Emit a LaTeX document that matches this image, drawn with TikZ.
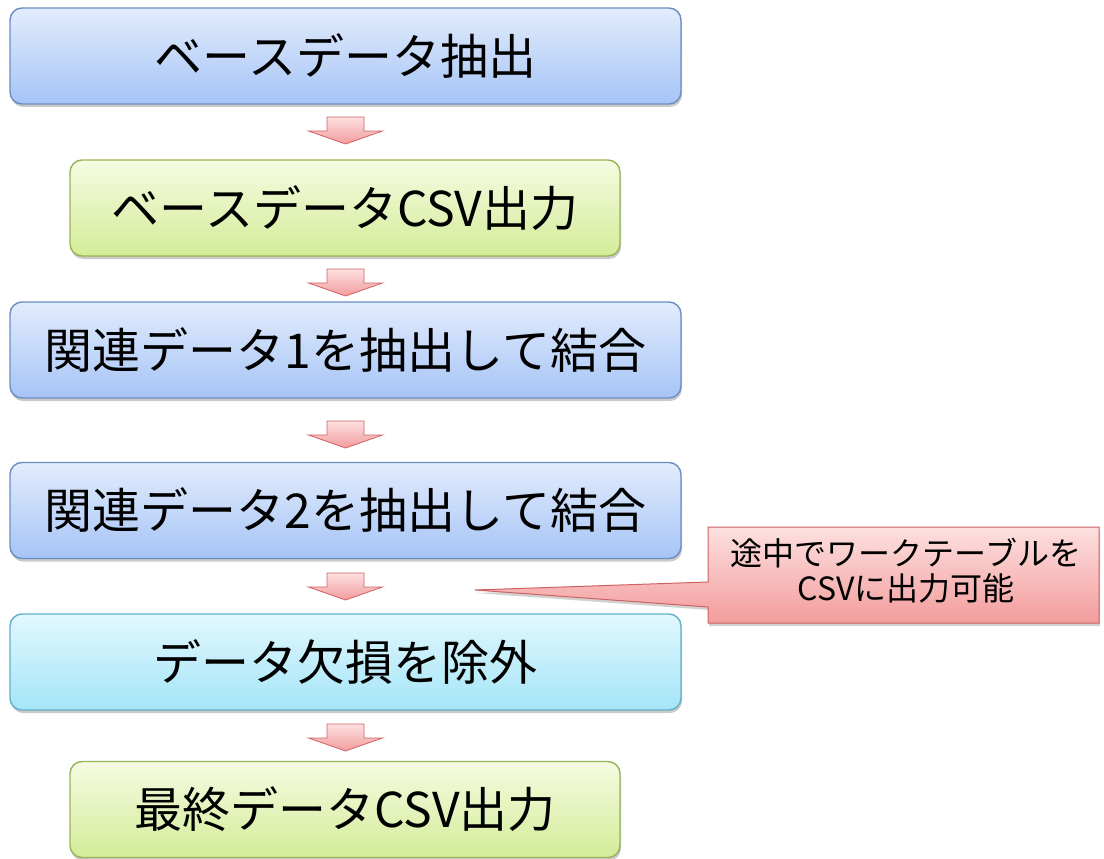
\documentclass[tikz,border=0pt]{standalone}
\usepackage{fontspec}
\setmainfont{Noto Sans CJK JP}
\usetikzlibrary{shadows}
\definecolor{blueT}{HTML}{E2ECFC}
\definecolor{blueB}{HTML}{A6C4F6}
\definecolor{blueD}{HTML}{6A8EC2}
\definecolor{greenT}{HTML}{F6FBE2}
\definecolor{greenB}{HTML}{D3EC98}
\definecolor{greenD}{HTML}{98B556}
\definecolor{cyanT}{HTML}{E2F7FD}
\definecolor{cyanB}{HTML}{A4E5F8}
\definecolor{cyanD}{HTML}{62B0CA}
\definecolor{redT}{HTML}{FDE0E0}
\definecolor{redB}{HTML}{F39C9C}
\definecolor{redD}{HTML}{CF6262}
\tikzset{
  stepbox/.style={rectangle, rounded corners=12pt, line width=1.4pt,
    minimum height=96pt, inner sep=0pt,
    font=\fontsize{48}{54}\selectfont,
    drop shadow={shadow xshift=1pt, shadow yshift=-3pt, opacity=0.35, fill=black!60}},
  bluebox/.style={stepbox, draw=blueD, top color=blueT, bottom color=blueB, minimum width=671pt},
  greenbox/.style={stepbox, draw=greenD, top color=greenT, bottom color=greenB, minimum width=550pt},
  cyanbox/.style={stepbox, draw=cyanD, top color=cyanT, bottom color=cyanB, minimum width=671pt},
  blockarrow/.style={draw=redD, line width=0.8pt, top color=redT, bottom color=redB, line join=miter},
  callout/.style={draw=redD, line width=1pt, top color=redT, bottom color=redB,
    drop shadow={shadow xshift=1pt, shadow yshift=-3pt, opacity=0.3, fill=black!60}},
}
\newcommand{\downblock}[2]{%
  \draw[blockarrow] (#1-18.5,#2) -- (#1+18.5,#2) -- (#1+18.5,#2-14) -- (#1+37,#2-14)
    -- (#1,#2-27) -- (#1-37,#2-14) -- (#1-18.5,#2-14) -- cycle;}
\begin{document}
\begin{tikzpicture}[x=1pt,y=1pt]
\useasboundingbox (0,0) rectangle (1104,-859);
\node[bluebox]  (b1) at (345.5,-56)  {ベースデータ抽出};
\node[greenbox] (b2) at (345,-208)   {ベースデータCSV出力};
\node[bluebox]  (b3) at (345.5,-350) {関連データ1を抽出して結合};
\node[bluebox]  (b4) at (345.5,-510.5) {関連データ2を抽出して結合};
\node[cyanbox]  (b5) at (345.5,-662) {データ欠損を除外};
\node[greenbox] (b6) at (345,-809.5) {最終データCSV出力};
\downblock{345.5}{-117}
\downblock{345.5}{-269}
\downblock{345.5}{-421}
\downblock{345.5}{-573}
\downblock{345.5}{-724}
\coordinate (tip) at (475,-590);
\draw[callout] (708,-527) -- (1099,-527) -- (1099,-623) -- (708,-623) -- (708,-607)
  -- (tip) -- (708,-582) -- cycle;
\node[align=center, font=\fontsize{32}{35}\selectfont, inner sep=0pt] (note) at (906,-571)
  {途中でワークテーブルを\\CSVに出力可能};
\end{tikzpicture}
\end{document}
